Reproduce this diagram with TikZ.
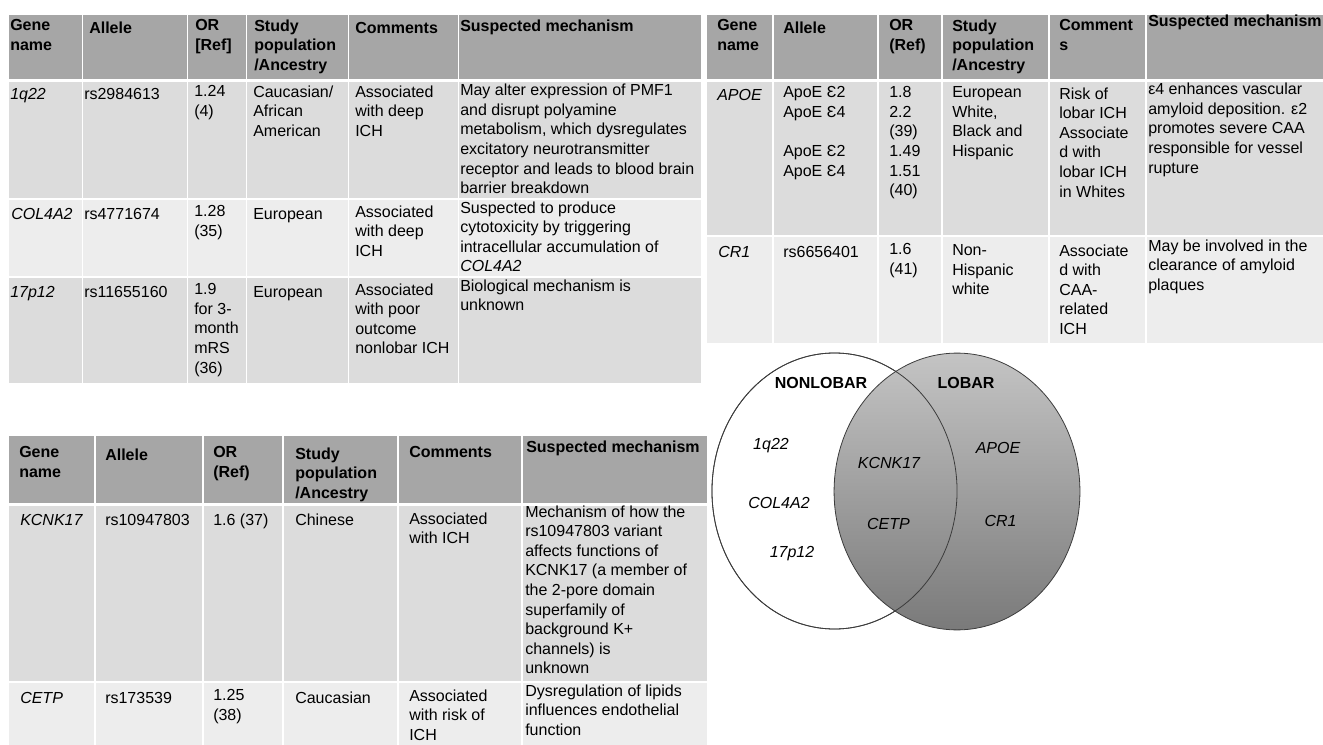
\documentclass[tikz,border=0pt]{standalone}
\usepackage{fontspec}
\setmainfont{Liberation Sans}

\definecolor{hdrgray}{HTML}{A6A6A6}
\definecolor{rowdark}{HTML}{DCDCDC}
\definecolor{rowlight}{HTML}{EDEDED}
\definecolor{venntop}{HTML}{C4C4C4}
\definecolor{vennbot}{HTML}{7A7A7A}
\definecolor{vennline}{HTML}{3C3C3C}
\newcommand{\cellfont}{\fontsize{12}{14.7}\selectfont}

\begin{document}
\begin{tikzpicture}[x=0.75pt, y=-0.75pt,
    every node/.style={font=\cellfont},
    cell/.style={anchor=north west, inner sep=0pt, align=left, yshift=10.29pt,
        execute at begin node=\strut},
    hcell/.style={cell, font=\cellfont\bfseries},
    gcell/.style={cell, font=\cellfont\itshape},
    colsep/.style={white, line width=1.4pt},
    vennline/.style={draw=vennline, line width=0.6pt},
    vtitle/.style={anchor=base, inner sep=0pt, font=\cellfont\bfseries},
    vgene/.style={anchor=base, inner sep=0pt, font=\cellfont\itshape},
]
\useasboundingbox (0,0) rectangle (1323,745);

% ===== TABLE A (top left, nonlobar) =====
\fill[hdrgray] (9,15) rectangle (701,79);
\fill[rowdark] (9,82) rectangle (701,198);
\fill[rowlight] (9,200) rectangle (701,276);
\fill[rowdark] (9,278) rectangle (701,383);
\foreach \x in {82.5,187.5,246.5,348.5,458.5}
    \draw[colsep] (\x,15) -- (\x,383);

\node[hcell] (A-h-gene) at (10,33) {Gene\\name};
\node[hcell] (A-h-allele) at (89,33) {Allele};
\node[hcell] (A-h-or) at (195,33) {OR\\{}[Ref]};
\node[hcell] (A-h-pop) at (254,33) {Study\\population\\/Ancestry};
\node[hcell] (A-h-com) at (355,33) {Comments};
\node[hcell] (A-h-mech) at (460,31.5) {Suspected mechanism};

% row 1q22
\node[gcell] (A-1q22) at (10,99) {1q22};
\node[cell] (A-1q22-allele) at (84,99) {rs2984613};
\node[cell] (A-1q22-or) at (194,99) {1.24\\(4)};
\node[cell] (A-1q22-pop) at (253,99) {Caucasian/\\African\\American};
\node[cell] (A-1q22-com) at (355,99) {Associated\\with deep\\ICH};
\node[cell] (A-1q22-mech) at (460,97.5) {May alter expression of PMF1\\and disrupt polyamine\\metabolism, which dysregulates\\excitatory neurotransmitter\\receptor and leads to blood brain\\barrier breakdown};

% row COL4A2
\node[gcell] (A-col) at (11,219) {COL4A2};
\node[cell] (A-col-allele) at (84,219) {rs4771674};
\node[cell] (A-col-or) at (194,219) {1.28\\(35)};
\node[cell] (A-col-pop) at (253,219) {European};
\node[cell] (A-col-com) at (355,219) {Associated\\with deep\\ICH};
\node[cell] (A-col-mech) at (460,215) {Suspected to produce\\cytotoxicity by triggering\\intracellular accumulation of\\\textit{COL4A2}};

% row 17p12
\node[gcell] (A-17p) at (10,297) {17p12};
\node[cell] (A-17p-allele) at (84,297) {rs11655160};
\node[cell] (A-17p-or) at (194,297) {1.9\\for 3-\\month\\mRS\\(36)};
\node[cell] (A-17p-pop) at (253,297) {European};
\node[cell] (A-17p-com) at (355,297) {Associated\\with poor\\outcome\\nonlobar ICH};
\node[cell] (A-17p-mech) at (460,293) {Biological mechanism is\\unknown};

% ===== TABLE B (top right, lobar) =====
\fill[hdrgray] (707,15) rectangle (1323,79);
\fill[rowdark] (707,82) rectangle (1323,235);
\fill[rowlight] (707,237) rectangle (1323,343);
\foreach \x in {773,878,942,1049,1146}
    \draw[colsep] (\x,15) -- (\x,343);

\node[hcell] (B-h-gene) at (717,33) {Gene\\name};
\node[hcell] (B-h-allele) at (783,33) {Allele};
\node[hcell] (B-h-or) at (889,33) {OR\\(Ref)};
\node[hcell] (B-h-pop) at (952,33) {Study\\population\\/Ancestry};
\node[hcell] (B-h-com) at (1059,33) {Comment\\s};
\node[hcell] (B-h-mech) at (1148,26) {Suspected mechanism};

% row APOE
\node[gcell] (B-apoe) at (717,100) {APOE};
\node[cell] (B-apoe-allele) at (783,100) {ApoE Ɛ2\\ApoE Ɛ4\\\strut\\ApoE Ɛ2\\ApoE Ɛ4};
\node[cell] (B-apoe-or) at (889,100) {1.8\\2.2\\(39)\\1.49\\1.51\\(40)};
\node[cell] (B-apoe-pop) at (952,100) {European\\White,\\Black and\\Hispanic};
\node[cell] (B-apoe-com) at (1059,101) {Risk of\\lobar ICH\\Associate\\d with\\lobar ICH\\in Whites};
\node[cell] (B-apoe-mech) at (1148,96.5) {ε4 enhances vascular\\amyloid deposition. ε2\\promotes severe CAA\\responsible for vessel\\rupture};

% row CR1
\node[gcell] (B-cr1) at (718,257) {CR1};
\node[cell] (B-cr1-allele) at (783,257) {rs6656401};
\node[cell] (B-cr1-or) at (889,257) {1.6\\(41)};
\node[cell] (B-cr1-pop) at (952,258) {Non-\\Hispanic\\white};
\node[cell] (B-cr1-com) at (1059,258) {Associate\\d with\\CAA-\\related\\ICH};
\node[cell] (B-cr1-mech) at (1148,253) {May be involved in the\\clearance of amyloid\\plaques};

% ===== TABLE C (bottom left, both) =====
\fill[hdrgray] (9,436) rectangle (707,503);
\fill[rowdark] (9,506) rectangle (707,681);
\fill[rowlight] (9,683) rectangle (707,745);
\foreach \x in {95,203,283,398,522}
    \draw[colsep] (\x,436) -- (\x,745);

\node[hcell] (C-h-gene) at (19,460) {Gene\\name};
\node[hcell] (C-h-allele) at (105,460) {Allele};
\node[hcell] (C-h-or) at (213,460) {OR\\(Ref)};
\node[hcell] (C-h-pop) at (295,461) {Study\\population\\/Ancestry};
\node[hcell] (C-h-com) at (409,457) {Comments};
\node[hcell] (C-h-mech) at (526,452) {Suspected mechanism};

% row KCNK17
\node[gcell] (C-kcnk) at (20,525) {KCNK17};
\node[cell] (C-kcnk-allele) at (105,525) {rs10947803};
\node[cell] (C-kcnk-or) at (213,525) {1.6 (37)};
\node[cell] (C-kcnk-pop) at (295,525) {Chinese};
\node[cell] (C-kcnk-com) at (409,526) {Associated\\with ICH};
\node[cell] (C-kcnk-mech) at (525,519) {Mechanism of how the\\rs10947803 variant\\affects functions of\\KCNK17 (a member of\\the 2-pore domain\\superfamily of\\background K+\\channels) is\\unknown};

% row CETP
\node[gcell] (C-cetp) at (20,703) {CETP};
\node[cell] (C-cetp-allele) at (105,703) {rs173539};
\node[cell] (C-cetp-or) at (213,703) {1.25\\(38)};
\node[cell] (C-cetp-pop) at (295,703) {Caucasian};
\node[cell] (C-cetp-com) at (409,703) {Associated\\with risk of\\ICH};
\node[cell] (C-cetp-mech) at (525,698) {Dysregulation of lipids\\influences endothelial\\function};

% ===== VENN =====
\filldraw[fill=white, vennline] (834.5,491) ellipse [x radius=91.9pt, y radius=103.5pt];
\shadedraw[top color=venntop, bottom color=vennbot, vennline] (957,491.5) ellipse [x radius=92.2pt, y radius=103.8pt];
% left outline again, seen through the overlap
\draw[vennline] (834.5,491) ellipse [x radius=91.9pt, y radius=103.5pt];

\node[vtitle] (V-nonlobar) at (821,388) {NONLOBAR};
\node[vtitle] (V-lobar) at (966,388) {LOBAR};
\node[vgene] (V-1q22) at (771,449) {1q22};
\node[vgene] (V-col) at (779,508) {COL4A2};
\node[vgene] (V-17p) at (792,557) {17p12};
\node[vgene] (V-kcnk) at (889,468) {KCNK17};
\node[vgene] (V-cetp) at (888.5,529) {CETP};
\node[vgene] (V-apoe) at (998,453) {APOE};
\node[vgene] (V-cr1) at (1000.5,526) {CR1};
\end{tikzpicture}
\end{document}
